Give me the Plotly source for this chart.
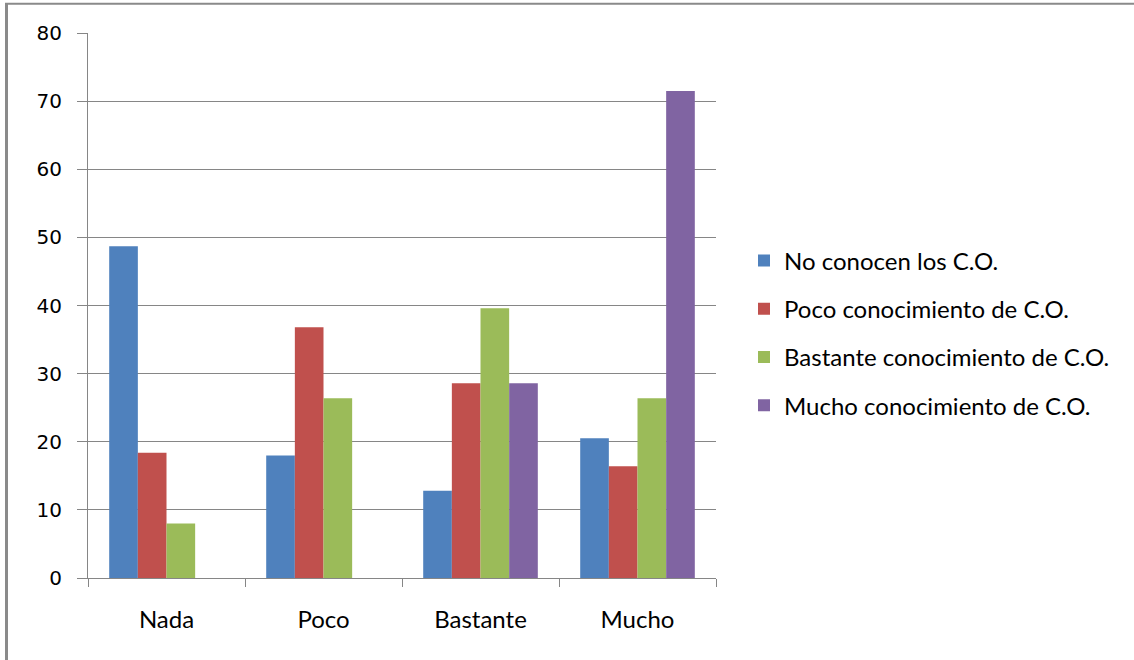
import plotly.graph_objects as go

categories = ["Nada", "Poco", "Bastante", "Mucho"]
series_names = [
    "No conocen los C.O.",
    "Poco conocimiento de C.O.",
    "Bastante conocimiento de C.O.",
    "Mucho conocimiento de C.O.",
]
no_conocen = [48.7, 18.0, 12.8, 20.5]
poco_conoc = [18.4, 36.8, 28.6, 16.4]
bastante_conoc = [8.0, 26.4, 39.6, 26.4]
mucho_conoc = [None, None, 28.6, 71.5]
colors = ["#4F81BD", "#C0504D", "#9BBB59", "#8064A2"]
y_ticks = [0, 10, 20, 30, 40, 50, 60, 70, 80]

W, H = 1134, 660
L, R, T, B = 88, 716, 33, 578  # plot area in pixels

fig = go.Figure()
for i, (name, vals) in enumerate(zip(series_names, [no_conocen, poco_conoc, bastante_conoc, mucho_conoc])):
    fig.add_trace(go.Bar(
        x=categories, y=vals, name=name,
        marker=dict(color=colors[i], line=dict(width=0)),
        legendgroup=f"g{i}",
    ))

grid_color = "#868686"

def px_x(p):
    return (p - L) / (R - L)

def px_y(p):
    return (B - p) / (B - T)

fig.update_layout(
    width=W, height=H,
    margin=dict(l=L, r=W - R, t=T, b=H - B, pad=0),
    paper_bgcolor="white", plot_bgcolor="white",
    barmode="group", bargap=0.27, bargroupgap=0,
    font=dict(family="DejaVu Sans", size=20, color="#000000"),
    xaxis=dict(
        type="category", showgrid=False, showline=True, linecolor=grid_color, linewidth=1,
        ticks="outside", tickson="boundaries", ticklen=8, tickcolor=grid_color,
        ticklabelstandoff=20, tickfont=dict(family="Lato", size=24),
    ),
    yaxis=dict(
        range=[0, 80], tickvals=y_ticks, showgrid=True, gridcolor=grid_color, gridwidth=1,
        showline=True, linecolor=grid_color, linewidth=1, zeroline=False,
        ticks="outside", ticklen=10, tickcolor=grid_color, ticklabelstandoff=11,
        tickfont=dict(family="DejaVu Sans", size=20),
    ),
    legend=dict(
        x=px_x(744), y=px_y(333), xanchor="left", yanchor="middle",
        font=dict(family="Lato", size=24, color="#000000"),
        tracegroupgap=14, itemwidth=30, bgcolor="rgba(0,0,0,0)",
    ),
    showlegend=True,
)

# outer frame: left and top edges
fig.add_shape(
    type="line", xref="paper", yref="paper",
    x0=px_x(6.5), x1=px_x(6.5), y0=px_y(700), y1=px_y(3),
    line=dict(color="#8a8a8a", width=3), layer="below",
)
fig.add_shape(
    type="line", xref="paper", yref="paper",
    x0=px_x(5), x1=px_x(1140), y0=px_y(3.8), y1=px_y(3.8),
    line=dict(color="#8a8a8a", width=2), layer="below",
)

fig.write_html("out.html")
